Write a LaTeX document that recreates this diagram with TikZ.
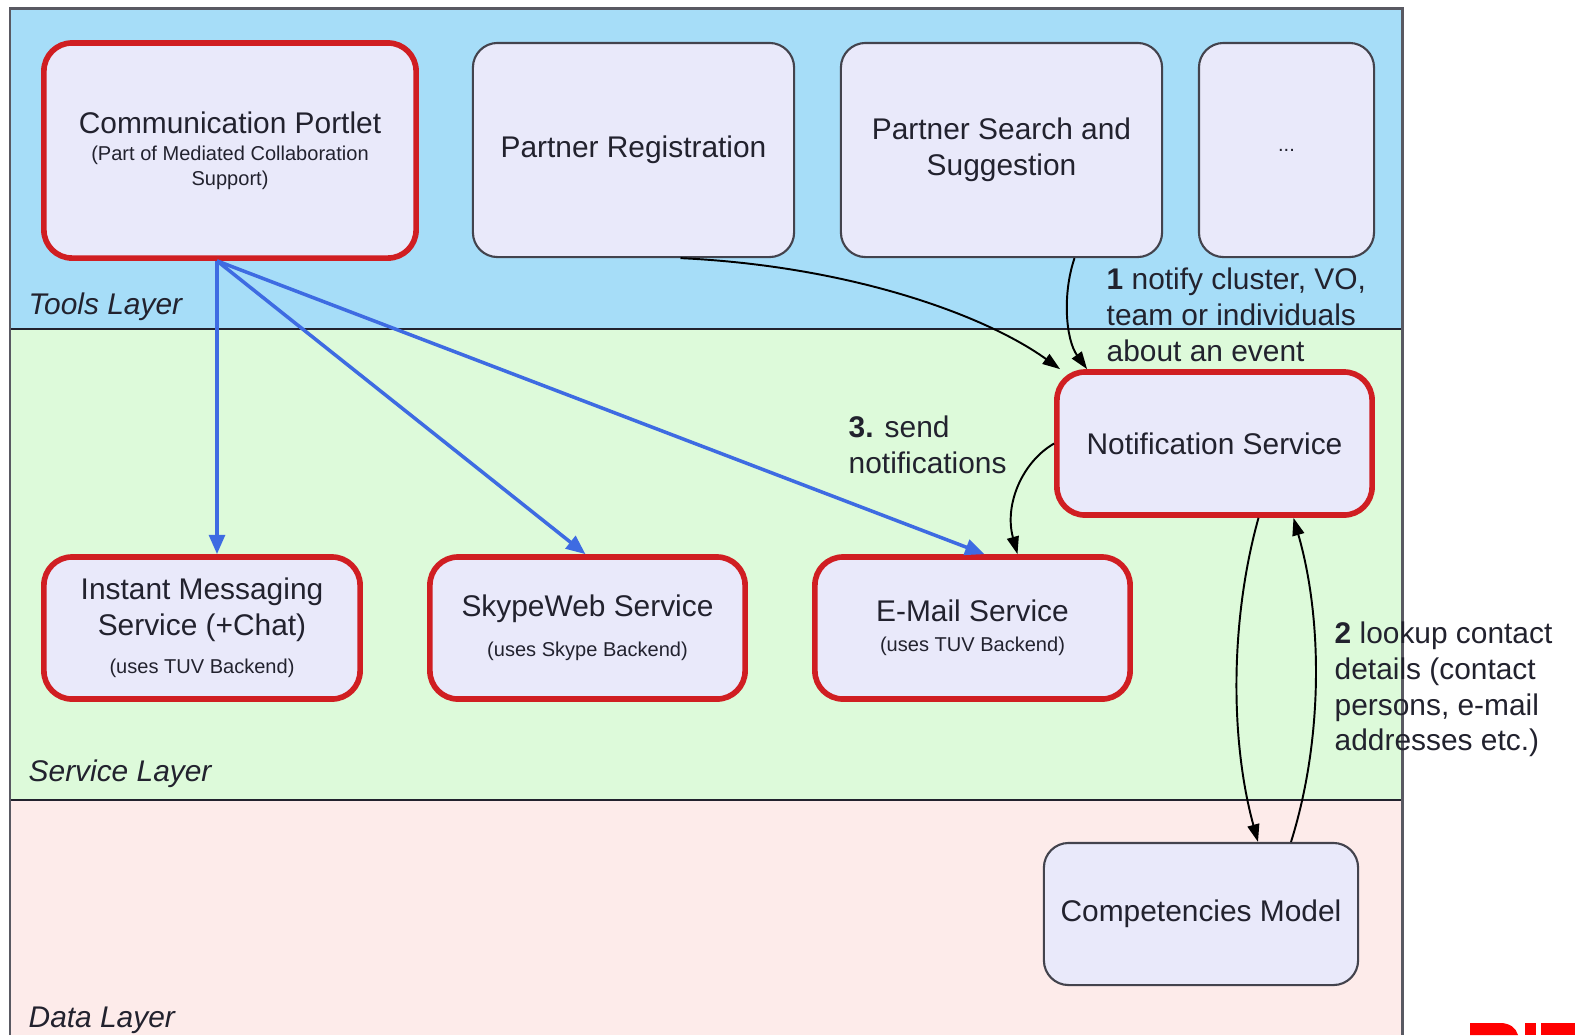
\documentclass[tikz,border=0pt]{standalone}
\usepackage{fontspec}
\setmainfont{Liberation Sans}
\usetikzlibrary{arrows.meta,calc}
\definecolor{toolsbg}{HTML}{A6DDF8}
\definecolor{servbg}{HTML}{DDFADA}
\definecolor{databg}{HTML}{FDEBEA}
\definecolor{boxbg}{HTML}{E9E9FA}
\definecolor{redline}{HTML}{D01E22}
\definecolor{bluearr}{HTML}{3E6BE2}
\definecolor{ink}{HTML}{22222E}
\definecolor{logored}{HTML}{FF0000}
\newcommand\subtxt[1]{{\fontsize{5.7}{7}\selectfont #1}}

\begin{document}
\begin{tikzpicture}[x=0.01cm,y=-0.01cm,
  box/.style={draw=ink!85,line width=0.6pt,fill=boxbg,rounded corners=7pt,
              align=center,text=ink,inner sep=0pt,
              font=\fontsize{8.5}{10.2}\selectfont},
  hot/.style={box,draw=redline,line width=1.6pt,rounded corners=8pt},
  layer/.style={font=\fontsize{8.5}{10.2}\selectfont\itshape,text=ink,anchor=base west,inner sep=0pt},
  note/.style={font=\fontsize{8.5}{10.2}\selectfont,text=ink,align=left,anchor=north west,inner sep=0pt},
  call/.style={-{Triangle[length=5.5pt,width=4.5pt]},line width=1pt,bluearr},
  flow/.style={-{Triangle[length=5pt,width=3.4pt]},line width=0.55pt,black}]
\useasboundingbox (0,0) rectangle (1575,1035);

% layers
\fill[toolsbg] (10,8) rectangle (1402,329);
\fill[servbg] (10,329) rectangle (1402,800);
\fill[databg] (10,800) rectangle (1402,1035);
\draw[line width=0.55pt,ink] (10,329) -- (1402,329) (10,800) -- (1402,800);
\draw[line width=0.85pt,ink!75] (10,1035) -- (10,8) -- (1402,8) -- (1402,1035);
\node[layer] (tools) at (28,314) {Tools Layer};
\node[layer] (serv) at (28,781) {Service Layer};
\node[layer] (data) at (28,1027) {Data Layer};

% tools
\node[hot,minimum width=3.72cm,minimum height=2.15cm] (portlet) at (230,150.5)
  {Communication Portlet\\[-2.4pt]
   \subtxt{(Part of Mediated Collaboration}\\[-3.2pt]
   \subtxt{Support)}};
\node[box,minimum width=3.21cm,minimum height=2.14cm] (reg) at (633.5,150)
  {Partner Registration};
\node[box,minimum width=3.21cm,minimum height=2.14cm] (search) at (1001.5,150)
  {Partner Search and\\Suggestion};
\node[box,minimum width=1.75cm,minimum height=2.14cm] (more) at (1286.5,150)
  {\subtxt{...}};

% services
\node[hot,minimum width=3.15cm,minimum height=1.43cm] (notif) at (1214.5,443.5)
  {Notification Service};
\node[hot,minimum width=3.16cm,minimum height=1.42cm] (im) at (202,628)
  {Instant Messaging\\Service (+Chat)\\[0.6pt]\subtxt{(uses TUV Backend)}};
\node[hot,minimum width=3.15cm,minimum height=1.42cm] (skype) at (587.5,628)
  {SkypeWeb Service\\[1.2pt]\subtxt{(uses Skype Backend)}};
\node[hot,minimum width=3.15cm,minimum height=1.42cm] (mail) at (972.5,628)
  {E-Mail Service\\[-1.6pt]\subtxt{(uses TUV Backend)}};

% data
\node[box,minimum width=3.14cm,minimum height=1.42cm] (comp) at (1201,914)
  {Competencies Model};

% portlet calls
\coordinate (hub) at ($(portlet.south)+(-13,0)$);
\draw[call] (hub) -- (hub |- im.north);
\draw[call] (hub) -- ($(skype.north)+(-2,0)$);
\draw[call] (hub) -- ($(mail.north)+(12,0)$);

% notification flow
\draw[flow] ($(reg.south)+(47,0)$) .. controls (850,266) and (985,315)
  .. ($(notif.north west)+(6,0)$);
\draw[flow] ($(search.south)+(73,0)$) .. controls (1062,295) and (1066,340)
  .. ($(notif.north west)+(33,0)$);
\draw[flow] (notif.west) .. controls (1022,462) and (1004,505)
  .. ($(mail.north)+(45,0)$);
\draw[flow] ($(notif.south)+(44,0)$) .. controls (1230,620) and (1230,740)
  .. ($(comp.north)+(57,0)$);
\draw[flow] ($(comp.north)+(90,0)$) .. controls (1323,740) and (1323,620)
  .. ($(notif.south)+(79,0)$);

\node[note] (n1) at (1106,267)
  {\textbf{1} notify cluster, VO,\\team or individuals\\about an event};
\node[note] (n3) at (848,415) {\textbf{3.} send\\notifications};
\node[note] (n2) at (1334,621)
  {\textbf{2} lookup contact\\details (contact\\persons, e-mail\\addresses etc.)};

% cut-off logo
\fill[logored] (1470,1035) -- (1470,1023) -- (1500,1023)
  .. controls (1510,1023) and (1516,1028) .. (1518,1035) -- cycle;
\fill[logored] (1525,1023) rectangle (1536,1035);
\fill[logored] (1541,1023) rectangle (1575,1035);
\end{tikzpicture}
\end{document}
